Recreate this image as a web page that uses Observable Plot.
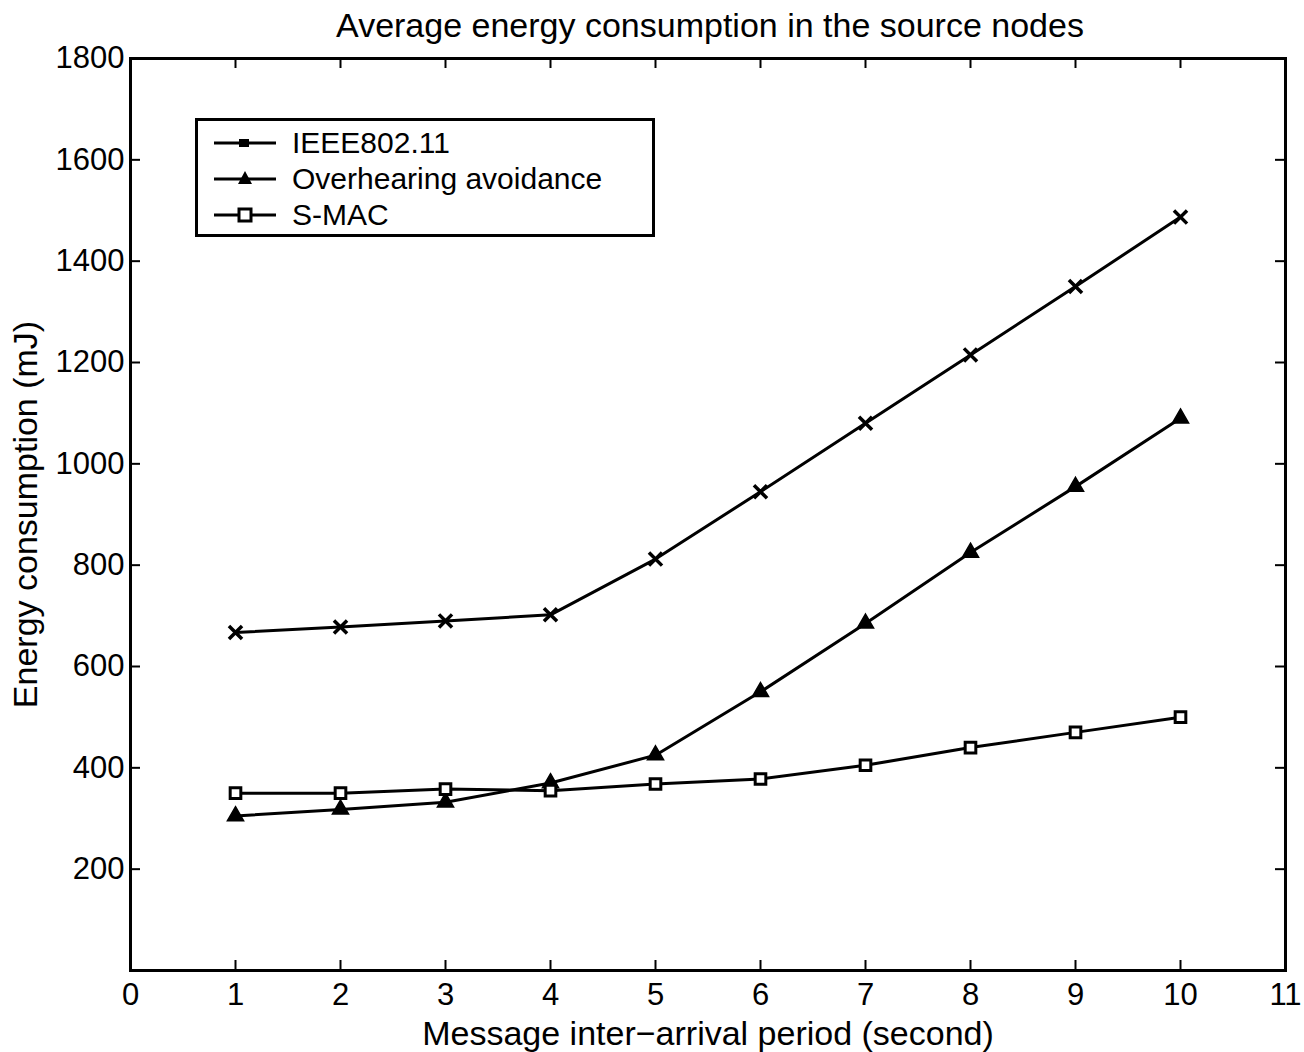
<!DOCTYPE html>
<html>
<head>
<meta charset="utf-8">
<script src="https://cdn.jsdelivr.net/npm/d3@7"></script>
<script src="https://cdn.jsdelivr.net/npm/@observablehq/plot@0.6"></script>
<style>
  html, body { margin: 0; padding: 0; background: #fff; }
  #wrap { position: relative; width: 1304px; height: 1052px; font-family: "Liberation Sans", Arial, sans-serif; color: #000; }
  #title { height: 40px; width: 1304px; position: relative; }
  #title span { position: absolute; left: 710px; top: 25px; transform: translate(-50%, -50%); font-size: 34px; white-space: nowrap; }
  #legend { position: absolute; left: 195px; top: 118px; width: 454px; height: 113px; border: 3px solid #000; background: #fff; }
  .item { position: absolute; left: 0; height: 36px; display: flex; align-items: center; font-size: 30px; white-space: nowrap; }
  .item svg { width: 70px; height: 36px; margin-left: 12px; margin-right: 12px; }
</style>
</head>
<body>
<div id="wrap">
  <div id="title"><span>Average energy consumption in the source nodes</span></div>
  <div id="chart"></div>
  <div id="legend"></div>
</div>
<script>
const periods = [1, 2, 3, 4, 5, 6, 7, 8, 9, 10];
const ieee80211 = [667, 678, 690, 702, 812, 945, 1080, 1215, 1350, 1487];
const overhearing = [305, 318, 332, 370, 425, 550, 685, 825, 955, 1090];
const smac = [350, 350, 358, 355, 368, 378, 405, 440, 470, 500];
const seriesNames = ["IEEE802.11", "Overhearing avoidance", "S-MAC"];
const xTicks = [0, 1, 2, 3, 4, 5, 6, 7, 8, 9, 10, 11];
const yTicks = [200, 400, 600, 800, 1000, 1200, 1400, 1600, 1800];
const yGrid = [0, 200, 400, 600, 800, 1000, 1200, 1400, 1600, 1800];

const rows = [];
[ieee80211, overhearing, smac].forEach((vals, i) => {
  periods.forEach((p, j) => rows.push({series: seriesNames[i], x: p, y: vals[j]}));
});

const W = 1304, H = 1012;
const mL = 130, mR = 19, mT = 18, mB = 82;
const iW = W - mL - mR, iH = H - mT - mB;
const tickLen = 10;

const chart = Plot.plot({
  width: W,
  height: H,
  marginLeft: mL,
  marginRight: mR,
  marginTop: mT,
  marginBottom: mB,
  style: {fontFamily: '"Liberation Sans", Arial, sans-serif', background: "#fff", color: "#000"},
  x: {domain: [0, 11]},
  y: {domain: [0, 1800]},
  marks: [
    Plot.axisX(xTicks, {tickSize: 0, tickPadding: 12, fontSize: 31, tickFormat: d => String(d), label: "Message inter\u2212arrival period (second)", labelAnchor: "center", labelArrow: "none", labelOffset: 74}),
    Plot.axisY(yTicks, {tickSize: 0, tickPadding: 6, fontSize: 31, tickFormat: d => String(d), label: "Energy consumption (mJ)", labelAnchor: "center", labelArrow: "none", labelOffset: 118}),
    Plot.tickX(xTicks, {x: d => d, insetTop: iH - tickLen, strokeWidth: 2}),
    Plot.tickX(xTicks, {x: d => d, insetBottom: iH - tickLen, strokeWidth: 2}),
    Plot.tickY(yGrid, {y: d => d, insetRight: iW - tickLen, strokeWidth: 2}),
    Plot.tickY(yGrid, {y: d => d, insetLeft: iW - tickLen, strokeWidth: 2}),
    Plot.frame({stroke: "#000", strokeWidth: 3}),
    Plot.line(rows, {x: "x", y: "y", z: "series", stroke: "#000", strokeWidth: 3}),
    Plot.dot(rows.filter(d => d.series === seriesNames[0]), {x: "x", y: "y", symbol: "times", r: 6, stroke: "#000", strokeWidth: 3.5}),
    Plot.dot(rows.filter(d => d.series === seriesNames[1]), {x: "x", y: "y", symbol: "triangle", r: 6, fill: "#000", stroke: "#000", strokeWidth: 1.5}),
    Plot.dot(rows.filter(d => d.series === seriesNames[2]), {x: "x", y: "y", symbol: "square", r: 6, fill: "#fff", stroke: "#000", strokeWidth: 3})
  ]
});
chart.querySelectorAll("g[aria-label='x-axis label'] text, g[aria-label='y-axis label'] text").forEach(t => t.setAttribute("font-size", 34));
document.getElementById("chart").appendChild(chart);

// legend
const legend = document.getElementById("legend");
const sym = [
  '<rect x="29" y="14" width="10" height="8" fill="#000"/>',
  '<path d="M35,10 L42,23 L28,23 Z" fill="#000"/>',
  '<rect x="29" y="12" width="12" height="12" fill="#fff" stroke="#000" stroke-width="3"/>'
];
seriesNames.forEach((name, i) => {
  const div = document.createElement("div");
  div.className = "item";
  div.style.top = (4 + i * 36) + "px";
  div.innerHTML = '<svg viewBox="0 0 70 36"><line x1="4" y1="18" x2="66" y2="18" stroke="#000" stroke-width="3"/>' + sym[i] + '</svg><span>' + name + '</span>';
  legend.appendChild(div);
});
</script>
</body>
</html>
